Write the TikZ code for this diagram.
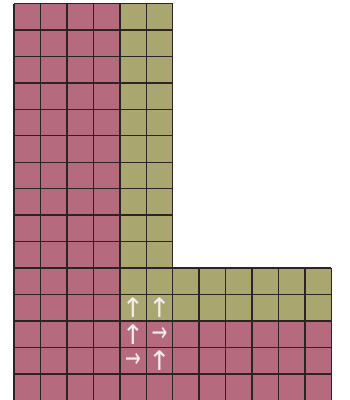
\documentclass[tikz,border=0pt]{standalone}
\usepackage{graphicx}
\usepackage{fontspec}
\newfontfamily\arrowfont{DejaVu Sans}
\definecolor{pinkc}{RGB}{181,106,126}
\definecolor{olivec}{RGB}{169,166,111}
\definecolor{gridc}{RGB}{42,36,38}
\definecolor{arrc}{RGB}{244,236,238}
\begin{document}
\begin{tikzpicture}[x=26.45pt,y=-26.45pt,
  gridl/.style={draw=gridc,line width=1.4pt},
  arr/.style={text=arrc,font=\arrowfont\fontsize{27}{27}\selectfont,inner sep=0pt}]
\useasboundingbox (-0.5293,-0.1323) rectangle ++(13.195,15.123);
% fills
\fill[pinkc] (0,0) rectangle (4,15);
\fill[olivec] (4,0) rectangle (6,12);
\fill[olivec] (6,10) rectangle (12,12);
\fill[pinkc] (4,12) rectangle (12,15);
% grid lines
\foreach \i in {0,...,6}{\draw[gridl] (\i,0) -- (\i,15);}
\foreach \i in {7,...,12}{\draw[gridl] (\i,10) -- (\i,15);}
\foreach \j in {0,...,9}{\draw[gridl] (0,\j) -- (6,\j);}
\foreach \j in {10,...,15}{\draw[gridl] (0,\j) -- (12,\j);}
% arrows
\node[arr] (a1) at (4.5,11.5) {↑};
\node[arr] (a2) at (5.5,11.5) {↑};
\node[arr] (a3) at (4.5,12.5) {↑};
\node[arr] (a4) at (5.5,12.5) {\scalebox{0.7}[1]{→}};
\node[arr] (a5) at (4.5,13.5) {\scalebox{0.7}[1]{→}};
\node[arr] (a6) at (5.5,13.5) {↑};
\end{tikzpicture}
\end{document}
